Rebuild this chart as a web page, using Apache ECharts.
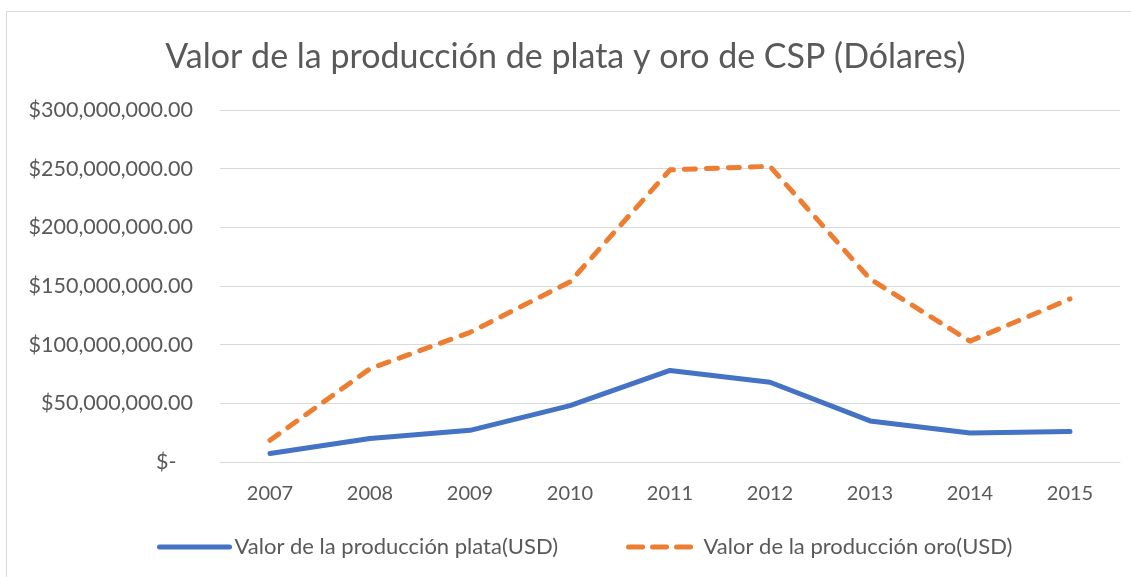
<!DOCTYPE html>
<html>
<head>
<meta charset="utf-8">
<script src="https://cdn.jsdelivr.net/npm/echarts@6/dist/echarts.min.js"></script>
<style>
  html, body { margin: 0; padding: 0; background: #fff; }
  #frame { position: absolute; left: 6px; top: 11px; width: 1140px; height: 580px; border: 1px solid #d9d9d9; box-sizing: border-box; }
  #chart { position: absolute; left: 0; top: 0; width: 1131px; height: 577px; }
</style>
</head>
<body>
<div id="frame"></div>
<div id="chart"></div>
<script>
const years = ['2007', '2008', '2009', '2010', '2011', '2012', '2013', '2014', '2015']
// valores aproximados (USD)
const plata = [7200000, 20000000, 27000000, 48000000, 78000000, 68000000, 35000000, 24700000, 26000000]
const oro = [18500000, 79500000, 110500000, 153500000, 249000000, 252000000, 156000000, 103000000, 139000000]
const yTicks = { min: 0, max: 300000000, interval: 50000000 }

const font = 'Lato, "Open Sans", sans-serif'
const textColor = '#595959'

function money(v) {
  if (v === 0) return '$-   '
  return '$' + v.toLocaleString('en-US') + '.00'
}

const chart = echarts.init(document.getElementById('chart'))
chart.setOption({
  animation: false,
  title: {
    text: 'Valor de la producción de plata y oro de CSP (Dólares)',
    left: 'center',
    top: 35,
    textStyle: { fontFamily: font, fontSize: 34, fontWeight: 'normal', color: textColor }
  },
  legend: {
    bottom: 14,
    left: 152,
    itemWidth: 70,
    itemHeight: 6,
    itemGap: 68,
    itemStyle: { opacity: 0 },
    textStyle: { fontFamily: font, fontSize: 22, color: textColor },
    data: [
      {
        name: 'Valor de la producción plata(USD)',
        lineStyle: { width: 5, cap: 'round' }
      },
      {
        name: 'Valor de la producción oro(USD)',
        lineStyle: { width: 5, type: [14, 10], cap: 'round' }
      }
    ]
  },
  grid: { left: 220, right: 11, top: 110, bottom: 115 },
  xAxis: {
    type: 'category',
    data: years,
    boundaryGap: true,
    axisLine: { lineStyle: { color: '#d9d9d9', width: 1 } },
    axisTick: { show: false },
    axisLabel: { fontFamily: font, fontSize: 20, color: textColor, margin: 22 }
  },
  yAxis: {
    type: 'value',
    min: yTicks.min,
    max: yTicks.max,
    interval: yTicks.interval,
    axisLine: { show: false },
    axisTick: { show: false },
    splitLine: { lineStyle: { color: '#d9d9d9', width: 1 } },
    axisLabel: { fontFamily: font, fontSize: 21.5, color: textColor, margin: 27, formatter: money }
  },
  series: [
    {
      name: 'Valor de la producción plata(USD)',
      type: 'line',
      data: plata,
      symbol: 'none',
      lineStyle: { color: '#4472c4', width: 5, cap: 'round', join: 'round' },
      itemStyle: { color: '#4472c4' }
    },
    {
      name: 'Valor de la producción oro(USD)',
      type: 'line',
      data: oro,
      symbol: 'none',
      lineStyle: { color: '#ed7d31', width: 5, type: [11, 11], cap: 'round', join: 'round' },
      itemStyle: { color: '#ed7d31' }
    }
  ]
})
</script>
</body>
</html>
